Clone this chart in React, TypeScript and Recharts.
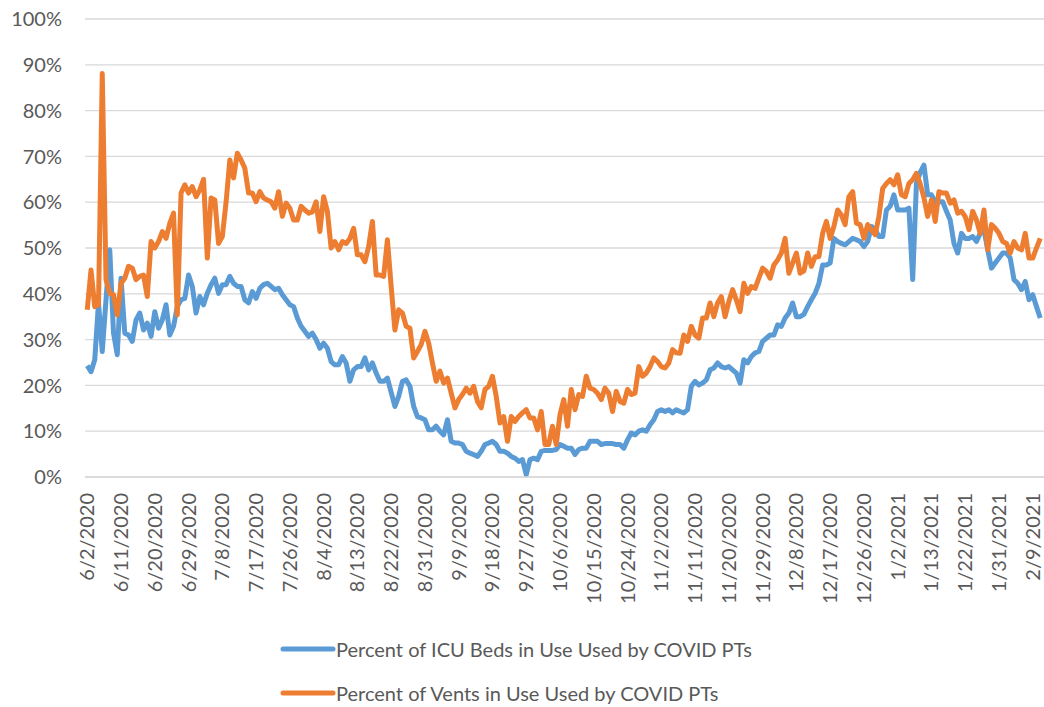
import { LineChart, Line, XAxis, YAxis, CartesianGrid, Legend } from 'recharts';

// daily values, % of capacity (index 0 = 6/2/2020)
const icuBeds = [
  24.3, 23, 25.6, 38, 27.4, 38.7, 49.6, 31.4, 26.7, 43.4,
  31.4, 31, 29.6, 34.3, 35.8, 32.1, 33.6, 30.7, 36.1, 32.5,
  34.3, 37.6, 31, 32.9, 37.2, 38.7, 39, 44.1, 41.6, 35.8,
  39.4, 37.6, 40.1, 42, 43.4, 40.1, 42, 42, 43.8, 42.3,
  41.6, 41.6, 38.7, 38, 40.5, 39, 41.2, 42, 42.3, 41.6,
  40.9, 41.2, 39.8, 38.7, 37.6, 37.2, 34.7, 32.9, 31.8, 30.7,
  31.4, 30, 28.1, 29.2, 28.1, 25.2, 24.5, 24.5, 26.3, 24.9,
  20.9, 23.4, 24.1, 24.1, 26, 23.4, 24.9, 22.7, 20.9, 20.9,
  21.6, 18.5, 15.4, 17.6, 20.9, 21.2, 19.8, 15.4, 13.2, 12.9,
  12.5, 10.3, 10.3, 11.1, 10, 9.2, 12.5, 7.8, 7.4, 7.4,
  7.1, 5.6, 5.2, 4.9, 4.5, 5.6, 7.1, 7.4, 7.8, 7.1,
  5.6, 5.6, 5.2, 4.5, 4.1, 3.4, 3.8, 0.5, 3.8, 4.1,
  3.8, 5.6, 5.8, 5.8, 5.8, 6, 7.1, 6.7, 6.3, 6.3,
  4.9, 6, 6.3, 6.3, 7.8, 7.8, 7.8, 7.1, 7.3, 7.3,
  7.3, 7.1, 7.1, 6.3, 8.1, 9.6, 9.2, 10, 10.3, 10,
  11.4, 12.5, 14.3, 14.7, 14.3, 14.7, 14, 14.7, 14.3, 14,
  14.7, 19.8, 20.9, 20.1, 20.5, 21.2, 23.4, 23.8, 24.9, 24.1,
  23.8, 24.1, 23.4, 22.7, 20.5, 25.6, 24.9, 26.3, 27.1, 27.4,
  29.6, 30.3, 31, 31, 33.2, 32.9, 34.7, 35.8, 38, 35,
  35, 35.5, 37.2, 38.7, 40.1, 42.3, 46.3, 46.3, 46.7, 52.1,
  51.4, 51, 50.7, 51.4, 52.1, 51.8, 51.4, 50.3, 51.4, 54.7,
  54, 52.5, 52.5, 58.3, 59.1, 61.6, 58.3, 58.3, 58.3, 58.7,
  43.1, 64.1, 66.5, 68.1, 61.6, 61.6, 60.1, 60.1, 60.1, 58,
  56.1, 51, 48.9, 53.2, 52.1, 52.1, 52.5, 51.4, 53.2, 54,
  49.6, 45.6, 46.7, 47.8, 48.9, 48.9, 47.8, 43.1, 42.3, 40.9,
  42.7, 38.7, 39.8, 37.2, 34.7,
];

const vents = [
  36.5, 45.2, 37.2, 37.6, 88.1, 43.1, 40.1, 39.8, 35.4, 42.3,
  43.4, 46, 45.6, 43.1, 43.8, 44.1, 39.4, 51.4, 50, 51.4,
  53.6, 52.1, 55.4, 57.6, 35.4, 62, 63.8, 62, 63.4, 61.2,
  62.7, 65, 47.8, 60.9, 60.5, 51, 52.5, 60, 69.2, 65.3,
  70.7, 69.2, 67.4, 62, 62, 60.1, 62.3, 60.9, 60.5, 60.1,
  58.7, 62.3, 56.9, 59.8, 58.7, 56.1, 56.1, 59.1, 58.3, 57.6,
  57.9, 60.1, 53.6, 61.2, 58, 50, 51.4, 49.6, 51.4, 51,
  52.1, 54.3, 48.5, 48.5, 47, 50.3, 55.8, 44.1, 44.1, 43.8,
  51.8, 41.6, 32.1, 36.5, 35.8, 32.9, 32.5, 26, 27.4, 28.9,
  31.8, 29.2, 24.9, 20.9, 23.1, 20.5, 21.6, 18.3, 15.1, 16.9,
  18, 19.4, 18.3, 19.8, 16.5, 15.1, 19.1, 19.8, 22, 17.6,
  11.8, 13.2, 7.8, 13.2, 12.1, 13.2, 14, 14.7, 12.9, 12.9,
  10.3, 14.3, 7.1, 7.1, 11.1, 7.1, 13.6, 16.9, 11.1, 19.1,
  14.7, 18, 17.6, 22, 19.4, 19.1, 18.3, 16.9, 19.4, 18.3,
  14.3, 18.7, 16.5, 16.1, 19.1, 18, 18.3, 24.1, 22, 22.7,
  24.1, 26, 25.2, 24.1, 23.8, 24.9, 27.8, 27.1, 27, 31,
  29.6, 32.9, 31, 30.3, 34.7, 34.7, 38, 35, 38, 39.4,
  35, 38.3, 40.9, 38.7, 36.1, 42.3, 40.1, 41.6, 41.2, 43.4,
  45.6, 44.9, 43.4, 46.3, 47.4, 48.9, 52.1, 44.5, 46.7, 48.9,
  44.5, 45, 48.9, 46, 48.1, 48.1, 53.2, 55.8, 52.1, 54.7,
  58.3, 57.2, 55.1, 61.2, 62.3, 55.4, 55.1, 52.1, 55.1, 54,
  52.9, 56.9, 63, 64.1, 64.9, 63.8, 66, 61.6, 61.2, 64.1,
  64.9, 66.3, 64, 61, 56.9, 60.5, 55.8, 62.3, 62, 62,
  59.8, 60.5, 57.6, 58, 56.9, 54, 58, 56.1, 53.2, 58.3,
  49.6, 55.1, 54.3, 53.2, 51.4, 51, 48.9, 51.4, 50, 49.6,
  53.2, 47.8, 47.8, 50, 52.1,
];

// every 9th category gets a label, like the excel axis
const dateLabels = [
  '6/2/2020', '6/11/2020', '6/20/2020', '6/29/2020', '7/8/2020', '7/17/2020',
  '7/26/2020', '8/4/2020', '8/13/2020', '8/22/2020', '8/31/2020', '9/9/2020',
  '9/18/2020', '9/27/2020', '10/6/2020', '10/15/2020', '10/24/2020', '11/2/2020',
  '11/11/2020', '11/20/2020', '11/29/2020', '12/8/2020', '12/17/2020', '12/26/2020',
  '1/2/2021', '1/13/2021', '1/22/2021', '1/31/2021', '2/9/2021',
];
const labelIndex = dateLabels.map((_, k) => k * 9);

const yTicks = [0, 10, 20, 30, 40, 50, 60, 70, 80, 90, 100];

const seriesNames = [
  'Percent of ICU Beds in Use Used by COVID PTs',
  'Percent of Vents in Use Used by COVID PTs',
];
const colors = ['#5B9BD5', '#ED7D31'];

const data = icuBeds.map((v, i) => ({ day: i, icu: v, vents: vents[i] }));

const FONT = 'Lato, "Open Sans", sans-serif';
const FONT_SIZE = 20;
const TEXT = '#595959';
const LINE_W = 5;

function DateTick({ x, y, payload }: any) {
  const label = dateLabels[labelIndex.indexOf(payload.value)];
  const ty = y + 16;
  return (
    <text
      x={x}
      y={ty}
      transform={`rotate(-90, ${x}, ${ty})`}
      textAnchor="end"
      dy="0.35em"
      fill={TEXT}
      fontSize={FONT_SIZE}
      fontFamily={FONT}
    >
      {label}
    </text>
  );
}

function LegendBox() {
  return (
    <div style={{ fontFamily: FONT, fontSize: FONT_SIZE, color: TEXT }}>
      {seriesNames.map((name, k) => (
        <div key={name} style={{ display: 'flex', alignItems: 'center', height: 43.7 }}>
          <svg width={56} height={10} style={{ display: 'block' }}>
            <line x1={3} y1={5} x2={53} y2={5} stroke={colors[k]} strokeWidth={LINE_W} strokeLinecap="round" />
          </svg>
          <span style={{ whiteSpace: 'nowrap' }}>{name}</span>
        </div>
      ))}
    </div>
  );
}

export default function App() {
  return (
    <div style={{ position: 'absolute', left: 0, top: 0, width: 1044, height: 707, background: '#fff' }}>
      <LineChart width={1044} height={707} data={data} margin={{ top: 19, right: 0, left: 0, bottom: 110 }}>
        <CartesianGrid vertical={false} stroke="#D9D9D9" strokeWidth={1.3} />
        <XAxis
          dataKey="day"
          type="number"
          domain={[-0.6, 255]}
          ticks={labelIndex}
          interval={0}
          height={120}
          tickLine={false}
          tickSize={0}
          tickMargin={0}
          axisLine={{ stroke: '#D9D9D9', strokeWidth: 1.3 }}
          tick={<DateTick />}
        />
        <YAxis
          domain={[0, 100]}
          ticks={yTicks}
          width={85}
          axisLine={false}
          tickLine={false}
          tickSize={0}
          tickMargin={23}
          tickFormatter={(v: number) => `${v}%`}
          tick={{ fill: TEXT, fontSize: FONT_SIZE, fontFamily: FONT }}
        />
        <Legend
          layout="vertical"
          align="center"
          verticalAlign="middle"
          content={<LegendBox />}
          wrapperStyle={{ left: 280, top: 627, width: 'auto' }}
        />
        <Line
          type="linear"
          dataKey="icu"
          name={seriesNames[0]}
          stroke={colors[0]}
          strokeWidth={LINE_W}
          strokeLinejoin="round"
          dot={false}
          isAnimationActive={false}
        />
        <Line
          type="linear"
          dataKey="vents"
          name={seriesNames[1]}
          stroke={colors[1]}
          strokeWidth={LINE_W}
          strokeLinejoin="round"
          dot={false}
          isAnimationActive={false}
        />
      </LineChart>
    </div>
  );
}
